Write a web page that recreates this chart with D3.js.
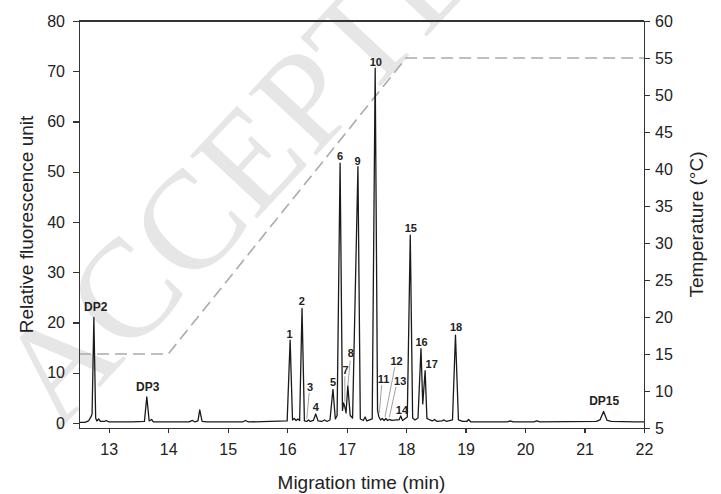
<!DOCTYPE html>
<html lang="en">
<head>
<meta charset="UTF-8">
<title>Electropherogram</title>
<style>
  body { margin: 0; background: #fff; }
  svg { display: block; font-family: "Liberation Sans", Arial, sans-serif; }
  .axis path, .axis line { stroke: #333; stroke-width: 1.2px; shape-rendering: crispEdges; }
  .axis text { font-size: 16px; fill: #222; }
  .trace { fill: none; stroke: #1a1a1a; stroke-width: 1.3px; stroke-linejoin: round; }
  .temp { fill: none; stroke: #aaa; stroke-width: 1.6px; stroke-dasharray: 12 6; }
  .peak-label { font-size: 11px; font-weight: bold; fill: #222; text-anchor: middle; }
  .leader { stroke: #888; stroke-width: 0.8px; }
  .title { font-size: 19px; fill: #222; text-anchor: middle; }
</style>
<script src="https://d3js.org/d3.v7.min.js"></script>
</head>
<body>
<div id="graph"></div>
<script>
// electropherogram trace (time in min, RFU)
const traceTime = [12.50, 12.60, 12.66, 12.70, 12.72, 12.75, 12.78, 12.80, 12.83, 12.86, 12.93, 12.96, 13.00,
  13.40, 13.60, 13.64, 13.68, 13.72, 13.75, 14.35, 14.41, 14.45, 14.50, 14.53, 14.57, 14.65,
  15.25, 15.30, 15.35, 16.00, 16.05, 16.09, 16.12, 16.15, 16.18, 16.21, 16.25, 16.29, 16.33,
  16.36, 16.39, 16.44, 16.48, 16.52, 16.58, 16.63, 16.67, 16.72, 16.77, 16.81, 16.84, 16.89,
  16.93, 16.95, 16.97, 16.99, 17.02, 17.06, 17.10, 17.19, 17.23, 17.28, 17.31, 17.34, 17.43,
  17.48, 17.52, 17.54, 17.57, 17.60, 17.63, 17.66, 17.69, 17.72, 17.76, 17.84, 17.88, 17.91,
  17.94, 18.02, 18.07, 18.11, 18.15, 18.20, 18.25, 18.28, 18.32, 18.35, 18.40, 18.44, 18.48,
  18.52, 18.60, 18.64, 18.68, 18.78, 18.83, 18.88, 18.95, 19.02, 19.05, 19.09, 19.70, 19.75,
  19.80, 20.15, 20.20, 20.25, 21.20, 21.26, 21.32, 21.38, 21.45, 21.85, 22.00];
const traceRFU = [0.1, 0.1, 0.4, 1.2, 1.8, 21.0, 1.0, 0.4, 0.8, 0.3, 0.3, 0.5, 0.2,
  0.2, 0.3, 5.2, 0.4, 0.7, 0.2, 0.2, 0.5, 0.2, 0.4, 2.6, 0.3, 0.2,
  0.2, 0.5, 0.2, 0.4, 16.5, 0.6, 0.9, 0.5, 0.8, 0.5, 22.8, 0.4, 0.3,
  0.6, 0.3, 0.5, 1.8, 0.4, 0.3, 0.6, 0.3, 0.6, 6.7, 0.8, 1.5, 51.7,
  2.5, 4.0, 3.2, 2.0, 7.4, 1.5, 1.0, 51.0, 0.8, 0.5, 1.2, 0.4, 0.8,
  70.6, 2.5, 1.3, 0.6, 0.9, 0.5, 0.9, 0.5, 0.7, 0.5, 0.6, 0.6, 1.4,
  0.5, 1.2, 37.4, 1.0, 0.6, 1.0, 14.8, 3.8, 10.4, 0.9, 0.6, 0.4, 0.7,
  0.3, 0.4, 0.6, 0.3, 0.6, 17.5, 0.6, 0.3, 0.3, 0.7, 0.2, 0.2, 0.4,
  0.2, 0.2, 0.4, 0.2, 0.3, 0.6, 2.3, 0.5, 0.3, 0.2, 0.2];

// capillary temperature programme (min, °C)
const tempTime = [12.5, 14, 18, 22];
const tempC = [15, 15, 55, 55];

// peak labels: text, label anchor (min, RFU)
const labelText = ["DP2", "DP3", "1", "2", "3", "4", "5", "6", "7", "8", "9", "10",
  "11", "12", "13", "14", "15", "16", "17", "18", "DP15"];
const labelTime = [12.78, 13.655, 16.04, 16.245, 16.385, 16.48, 16.77, 16.89, 16.98, 17.07, 17.185, 17.49,
  17.62, 17.84, 17.90, 17.93, 18.08, 18.26, 18.43, 18.84, 21.33];
const labelRFU = [22.3, 6.4, 16.9, 23.5, 6.4, 2.4, 7.4, 52.4, 9.75, 13.1, 51.3, 71.0,
  8.0, 11.5, 7.55, 1.8, 38.0, 15.4, 10.9, 18.3, 3.6];

// leader lines for small peaks: [label, from(min,RFU), to(min,RFU)]
const leaders = [
  ["3", 16.37, 6.0, 16.33, 0.8],
  ["7", 16.97, 9.3, 16.97, 4.2],
  ["8", 17.06, 12.4, 17.02, 7.3],
  ["11", 17.59, 7.6, 17.55, 2.0],
  ["12", 17.81, 11.1, 17.645, 1.2],
  ["13", 17.83, 7.2, 17.72, 1.2]
];

const xTicks = [13, 14, 15, 16, 17, 18, 19, 20, 21, 22];
const yTicks = [0, 10, 20, 30, 40, 50, 60, 70, 80];
const tTicks = [5, 10, 15, 20, 25, 30, 35, 40, 45, 50, 55, 60];

const width = 721, height = 494;
const margins = { top: 21, bottom: 66, left: 79, right: 77 };

const svg = d3.select("#graph").append("svg")
  .attr("width", width)
  .attr("height", height);

// faint "accepted" watermark of the source manuscript
svg.append("text")
  .attr("transform", "translate(58,432) rotate(-47)")
  .style("font-family", "'Liberation Serif', 'Times New Roman', serif")
  .style("font-size", "140px")
  .style("fill", "#e6e6e6")
  .text("ACCEPTED");

const x = d3.scaleLinear().domain([12.5, 22]).range([margins.left, width - margins.right]);
const y = d3.scaleLinear().domain([-1, 80]).range([height - margins.bottom, margins.top]);
const yT = d3.scaleLinear().domain([5, 60]).range([height - margins.bottom, margins.top]);

// temperature
const tempData = tempTime.map((t, i) => ({ t: t, c: tempC[i] }));
svg.append("path")
  .datum(tempData)
  .attr("class", "temp")
  .attr("d", d3.line().x(d => x(d.t)).y(d => yT(d.c)));

// trace
const trace = traceTime.map((t, i) => ({ t: t, v: traceRFU[i] }));
svg.append("path")
  .datum(trace)
  .attr("class", "trace")
  .attr("d", d3.line().x(d => x(d.t)).y(d => y(d.v)));

// frame top
svg.append("line")
  .attr("x1", x(12.5)).attr("x2", x(22))
  .attr("y1", y(80)).attr("y2", y(80))
  .style("stroke", "#333").style("stroke-width", 1.2).style("shape-rendering", "crispEdges");

svg.append("g")
  .attr("class", "axis")
  .attr("transform", `translate(0,${height - margins.bottom})`)
  .call(d3.axisBottom(x).tickValues(xTicks).tickSize(5).tickPadding(11).tickSizeOuter(0));

svg.append("g")
  .attr("class", "axis")
  .attr("transform", `translate(${margins.left},0)`)
  .call(d3.axisLeft(y).tickValues(yTicks).tickSize(6).tickPadding(8).tickSizeOuter(0));

svg.append("g")
  .attr("class", "axis")
  .attr("transform", `translate(${width - margins.right},0)`)
  .call(d3.axisRight(yT).tickValues(tTicks).tickSize(6).tickPadding(5).tickSizeOuter(0));

// leader lines
svg.selectAll(".leader")
  .data(leaders)
  .enter().append("line")
  .attr("class", "leader")
  .attr("x1", d => x(d[1])).attr("y1", d => y(d[2]))
  .attr("x2", d => x(d[3])).attr("y2", d => y(d[4]));

// peak labels
svg.selectAll(".peak-label")
  .data(labelText)
  .enter().append("text")
  .attr("class", "peak-label")
  .style("font-size", d => d.startsWith("DP") ? "12px" : "11px")
  .attr("x", (d, i) => x(labelTime[i]))
  .attr("y", (d, i) => y(labelRFU[i]))
  .text(d => d);

// axis titles
svg.append("text")
  .attr("class", "title")
  .attr("x", (margins.left + width - margins.right) / 2)
  .attr("y", 489)
  .text("Migration time (min)");

svg.append("text")
  .attr("class", "title")
  .attr("transform", `translate(33,${(margins.top + height - margins.bottom) / 2}) rotate(-90)`)
  .text("Relative fluorescence unit");

svg.append("text")
  .attr("class", "title")
  .attr("transform", `translate(703,${(margins.top + height - margins.bottom) / 2}) rotate(-90)`)
  .text("Temperature (°C)");
</script>
</body>
</html>
